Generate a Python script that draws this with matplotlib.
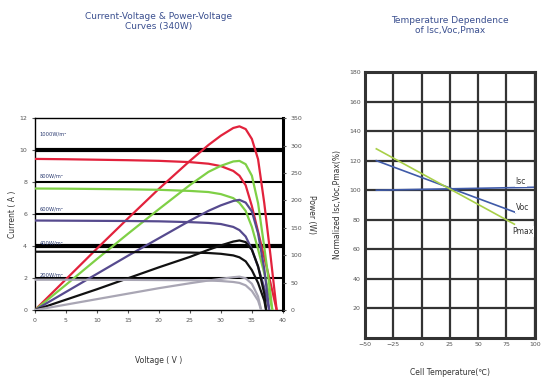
import matplotlib.pyplot as plt
import numpy as np

# I-V and P-V curves (voltage in V, current in A, power in W)
labels_irr = ['1000W/m²', '800W/m²', '600W/m²', '400W/m²', '200W/m²']
colors_irr = ['#e2223c', '#7fd046', '#564a8e', '#111111', '#a9a6b4']

v_red = [0, 5, 10, 15, 20, 25, 28, 30, 32, 33, 34, 35, 36, 37, 38, 39]
i_red = [9.45, 9.43, 9.4, 9.37, 9.33, 9.25, 9.15, 9.0, 8.7, 8.4, 7.8, 6.5, 4.9, 3.3, 1.7, 0]
p_red = [0, 56, 112, 167, 221, 272, 301, 318, 332, 335, 330, 312, 275, 195, 100, 0]

v_grn = [0, 5, 10, 15, 20, 25, 28, 30, 32, 33, 34, 35, 36, 37, 38, 38.3]
i_grn = [7.6, 7.59, 7.57, 7.55, 7.52, 7.45, 7.38, 7.25, 7.0, 6.7, 6.2, 5.2, 3.8, 2.3, 0.6, 0]
p_grn = [0, 46, 93, 139, 184, 228, 252, 263, 271, 272, 266, 245, 195, 115, 30, 0]

v_pur = [0, 5, 10, 15, 20, 25, 28, 30, 32, 33, 34, 35, 36, 37, 37.8]
i_pur = [5.6, 5.59, 5.58, 5.57, 5.55, 5.5, 5.45, 5.38, 5.2, 5.0, 4.6, 3.8, 2.7, 1.4, 0]
p_pur = [0, 33, 66, 99, 131, 163, 181, 191, 199, 201, 196, 180, 140, 75, 0]

v_blk = [0, 5, 10, 15, 20, 25, 28, 30, 32, 33, 34, 35, 36, 37, 37.3]
i_blk = [3.65, 3.65, 3.64, 3.63, 3.62, 3.6, 3.57, 3.52, 3.42, 3.3, 3.05, 2.5, 1.7, 0.6, 0]
p_blk = [0, 19, 38, 58, 78, 97, 110, 118, 125, 127, 124, 110, 80, 30, 0]

v_gry = [0, 5, 10, 15, 20, 25, 28, 30, 32, 33, 34, 35, 36, 36.5]
i_gry = [1.9, 1.9, 1.89, 1.89, 1.88, 1.87, 1.85, 1.82, 1.76, 1.7, 1.55, 1.2, 0.6, 0]
p_gry = [0, 10, 20, 30, 40, 49, 54, 57, 60, 61, 58, 48, 25, 0]

iv_v = [v_red, v_grn, v_pur, v_blk, v_gry]
iv_i = [i_red, i_grn, i_pur, i_blk, i_gry]
pv_p = [p_red, p_grn, p_pur, p_blk, p_gry]
label_y = [11.0, 8.4, 6.3, 4.2, 2.2]

# temperature dependence (normalized %, degC)
temp = [-40, 100]
isc = [100, 102]
temp_voc = [-40, 83]
voc = [120, 85]
temp_pmax = [-40, 82]
pmax = [128, 77]

title_col = '#3a4f8f'
tick_col = '#555555'
fs = 4.5

fig = plt.figure(figsize=(5.44, 3.81), dpi=100)

# ---- left chart
ax = fig.add_axes([0.064, 0.186, 0.456, 0.504])
ax.set_xlim(0, 40)
ax.set_ylim(0, 12)
for y, w in zip([2, 4, 6, 8, 10], [1.5, 3.0, 1.5, 1.5, 3.0]):
    ax.axhline(y, color='black', lw=w, zorder=1)
for vv, ii, pp, c in zip(iv_v, iv_i, pv_p, colors_irr):
    ax.plot(vv, ii, color=c, lw=1.6, zorder=3)
    ax.plot(vv, np.array(pp) * 12 / 350, color=c, lw=1.6, zorder=3)
for t, y in zip(labels_irr, label_y):
    ax.text(0.8, y, t, fontsize=3.7, color='#2a3a70', va='center')
ax.set_xticks(range(0, 41, 5))
ax.set_yticks(range(0, 13, 2))
ax.tick_params(labelsize=fs, length=2, width=0.8, colors=tick_col)
for s in ['left', 'top', 'bottom']:
    ax.spines[s].set_linewidth(1.0)
ax.spines['right'].set_linewidth(2.2)
ax.set_xlabel('Voltage ( V )', fontsize=5.5, labelpad=24, color='#333333')
ax.set_ylabel('Current ( A )', fontsize=5.5, labelpad=2, color='#333333')
ax.set_title('Current-Voltage & Power-Voltage\nCurves (340W)', fontsize=6.5,
             color=title_col, pad=64)

ax2 = ax.twinx()
ax2.set_ylim(0, 350)
ax2.set_yticks(range(0, 351, 50))
ax2.tick_params(labelsize=fs, length=2, width=0.8, colors=tick_col)
ax2.set_ylabel('Power (W)', fontsize=5.5, rotation=270, labelpad=10, color='#333333')
for s in ax2.spines.values():
    s.set_visible(False)

# ---- right chart
bx = fig.add_axes([0.671, 0.113, 0.312, 0.698])
bx.set_xlim(-50, 100)
bx.set_ylim(0, 180)
bx.set_xticks(range(-50, 101, 25))
bx.set_yticks(range(20, 181, 20))
bx.grid(True, color='#333333', lw=1.6)
bx.set_axisbelow(True)
for s in bx.spines.values():
    s.set_linewidth(2.2)
    s.set_color('#333333')
bx.plot(temp, isc, color='#3f5aa8', lw=1.2)
bx.plot(temp_voc, voc, color='#3f5aa8', lw=1.2)
bx.plot(temp_pmax, pmax, color='#a8cf48', lw=1.2)
bx.text(83, 106, 'Isc', fontsize=5.5, color='#333333', va='center',
        bbox=dict(fc='white', ec='none', pad=0.5))
bx.text(83, 88, 'Voc', fontsize=5.5, color='#333333', va='center',
        bbox=dict(fc='white', ec='none', pad=0.5))
bx.text(80, 72, 'Pmax', fontsize=5.5, color='#333333', va='center',
        bbox=dict(fc='white', ec='none', pad=0.5))
bx.tick_params(labelsize=fs, length=0, pad=3, colors=tick_col)
bx.set_xlabel('Cell Temperature(℃)', fontsize=5.5, labelpad=15, color='#333333')
bx.set_ylabel('Normalized Isc,Voc,Pmax(%)', fontsize=5.5, labelpad=5, color='#333333')
bx.set_title('Temperature Dependence\nof Isc,Voc,Pmax', fontsize=6.5,
             color=title_col, pad=28)

fig.savefig('out.png', dpi=100)
